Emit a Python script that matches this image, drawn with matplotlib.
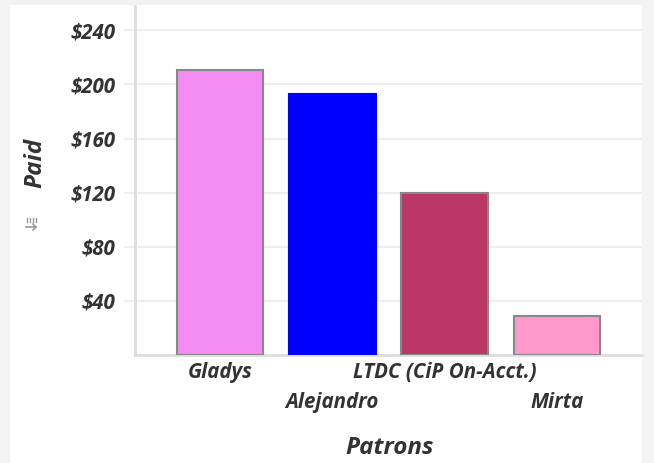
import matplotlib
matplotlib.use("Agg")
import matplotlib.pyplot as plt
from matplotlib.patches import Rectangle
from matplotlib.lines import Line2D

patrons = ["Gladys", "Alejandro", "LTDC (CiP On-Acct.)", "Mirta"]
paid = [211, 193, 120, 29]
colors = ["#f38cf3", "#0000ff", "#bb3766", "#ff99cc"]
edges = ["#888888", "#0000ff", "#888888", "#888888"]
yticks = [40, 80, 120, 160, 200, 240]
ytick_labels = ["$40", "$80", "$120", "$160", "$200", "$240"]

plt.rcParams['font.family'] = ['Open Sans', 'DejaVu Sans']

W, H = 654, 463
FW = "bold"
fig = plt.figure(figsize=(6.54, 4.63), dpi=100)
fig.patch.set_facecolor("#f3f3f3")
fig.patches.append(Rectangle((10/W, 0), 632/W, 458/H, transform=fig.transFigure,
                             facecolor="white", edgecolor="none", zorder=-10))

ax = fig.add_axes([135/W, 108/H, 507/W, 349/H])
ax.set_zorder(1)
ax.set_facecolor("white")
x = list(range(len(patrons)))
ax.bar(x, paid, width=0.77, color=colors, edgecolor=edges, linewidth=1.5, zorder=3)
ax.set_xlim(-0.755, 3.755)
ax.set_ylim(0, 258)
ax.set_yticks(yticks)
ax.set_yticklabels(ytick_labels)
ax.grid(axis="y", color="#eeeeee", linewidth=1.5, zorder=0)
ax.tick_params(axis="y", length=8, color="#eeeeee", width=1.5, pad=6,
               labelsize=14.8, labelcolor="#333333")
for lbl in ax.get_yticklabels():
    lbl.set_fontstyle("italic")
    lbl.set_fontweight(FW)
ax.set_xticks(x)
ax.set_xticklabels(patrons)
ax.tick_params(axis="x", length=0, labelsize=14.8, labelcolor="#333333", pad=5)
for i, lbl in enumerate(ax.get_xticklabels()):
    lbl.set_fontstyle("italic")
    lbl.set_fontweight(FW)
    if i % 2 == 1:
        lbl.set_y(-0.085)
for s in ["top", "right"]:
    ax.spines[s].set_visible(False)
for s in ["left", "bottom"]:
    ax.spines[s].set_color("#dddddd")
    ax.spines[s].set_linewidth(2)

fig.text(390/W, 1 - 448/H, "Patrons", fontsize=17.5, fontstyle="italic", fontweight=FW,
         color="#333333", ha="center", va="center")
fig.text(35/W, 1 - 163/H, "Paid", fontsize=17.5, fontstyle="italic", fontweight=FW,
         color="#333333", ha="center", va="center", rotation=90)

# small sort icon
for k in range(4):
    xx = (27 + k * 3) / W
    fig.lines.append(Line2D([xx, xx], [1 - 218/H, 1 - 222/H], transform=fig.transFigure,
                            color="#999999", linewidth=1))
fig.lines.append(Line2D([26/W, 36/W], [1 - 227/H, 1 - 227/H], transform=fig.transFigure,
                        color="#999999", linewidth=1.2))
fig.lines.append(Line2D([33/W, 36/W, 33/W], [1 - 224/H, 1 - 227/H, 1 - 230/H],
                        transform=fig.transFigure, color="#999999", linewidth=1.2))

fig.savefig("out.png", dpi=100)
